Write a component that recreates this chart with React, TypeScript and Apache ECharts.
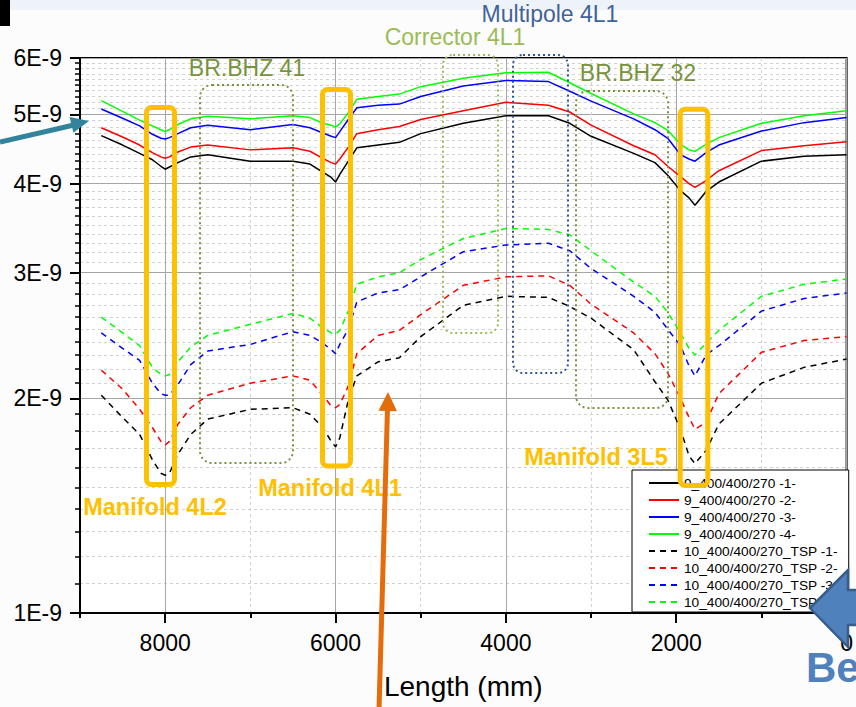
import React, { useEffect, useRef } from 'react';
import * as echarts from 'echarts';

// Position along the line, mm (x axis is reversed: 9000 on the left, 0 on the right)
const X_MM = [8750, 8500, 8300, 8150, 8050, 8000, 7950, 7850, 7700, 7500, 7000, 6500, 6300, 6150, 6050, 6000, 5950, 5850, 5750, 5500, 5250, 5000, 4500, 4000, 3500, 3250, 3000, 2500, 2250, 2100, 1950, 1850, 1780, 1650, 1500, 1000, 500, 0];

// Pressure values, in units of 1E-9
const S1 = [4.67, 4.53, 4.41, 4.32, 4.23, 4.19, 4.22, 4.28, 4.36, 4.39, 4.30, 4.30, 4.26, 4.15, 4.08, 4.02, 4.12, 4.30, 4.49, 4.53, 4.57, 4.70, 4.86, 4.98, 4.98, 4.86, 4.66, 4.41, 4.28, 4.11, 3.91, 3.82, 3.73, 3.90, 4.02, 4.30, 4.37, 4.39];
const S2 = [4.79, 4.65, 4.53, 4.42, 4.36, 4.34, 4.36, 4.43, 4.50, 4.53, 4.46, 4.49, 4.44, 4.34, 4.28, 4.26, 4.33, 4.50, 4.70, 4.76, 4.81, 4.92, 5.06, 5.20, 5.15, 5.04, 4.83, 4.52, 4.39, 4.23, 4.09, 4.00, 3.95, 4.04, 4.17, 4.45, 4.52, 4.58];
const S3 = [5.09, 4.94, 4.82, 4.69, 4.63, 4.62, 4.64, 4.70, 4.79, 4.83, 4.76, 4.84, 4.79, 4.71, 4.66, 4.64, 4.73, 4.92, 5.11, 5.15, 5.17, 5.30, 5.48, 5.58, 5.56, 5.39, 5.22, 4.93, 4.76, 4.63, 4.39, 4.33, 4.30, 4.42, 4.53, 4.74, 4.87, 4.95];
const S4 = [5.23, 5.05, 4.91, 4.82, 4.76, 4.73, 4.76, 4.84, 4.93, 4.97, 4.93, 4.98, 4.95, 4.86, 4.83, 4.80, 4.85, 5.03, 5.25, 5.30, 5.34, 5.47, 5.62, 5.72, 5.73, 5.54, 5.35, 5.01, 4.87, 4.75, 4.54, 4.46, 4.44, 4.54, 4.64, 4.86, 4.98, 5.06];
const D1 = [2.02, 1.88, 1.78, 1.64, 1.57, 1.56, 1.57, 1.67, 1.78, 1.87, 1.93, 1.94, 1.90, 1.82, 1.74, 1.71, 1.76, 1.99, 2.15, 2.25, 2.28, 2.44, 2.70, 2.78, 2.77, 2.69, 2.59, 2.34, 2.11, 1.99, 1.81, 1.66, 1.62, 1.69, 1.84, 2.10, 2.21, 2.27];
const D2 = [2.19, 2.06, 1.93, 1.82, 1.74, 1.72, 1.74, 1.84, 1.94, 2.02, 2.10, 2.15, 2.12, 2.02, 1.95, 1.94, 1.96, 2.08, 2.31, 2.45, 2.49, 2.62, 2.88, 2.96, 2.97, 2.88, 2.71, 2.47, 2.31, 2.17, 2.00, 1.88, 1.81, 1.85, 2.03, 2.32, 2.41, 2.44];
const D3 = [2.47, 2.35, 2.26, 2.10, 2.03, 2.02, 2.02, 2.09, 2.23, 2.33, 2.38, 2.48, 2.45, 2.39, 2.34, 2.31, 2.38, 2.50, 2.73, 2.81, 2.84, 2.96, 3.21, 3.28, 3.30, 3.22, 3.04, 2.78, 2.64, 2.50, 2.37, 2.22, 2.15, 2.30, 2.37, 2.65, 2.76, 2.81];
const D4 = [2.60, 2.47, 2.37, 2.21, 2.16, 2.15, 2.16, 2.25, 2.36, 2.45, 2.54, 2.63, 2.59, 2.51, 2.47, 2.46, 2.49, 2.65, 2.89, 2.96, 3.00, 3.13, 3.35, 3.46, 3.45, 3.39, 3.22, 2.91, 2.78, 2.64, 2.47, 2.35, 2.30, 2.39, 2.49, 2.78, 2.89, 2.94];

const SERIES_VALUES = [S1, S2, S3, S4, D1, D2, D3, D4];
const SERIES_NAMES = [
  '9_400/400/270 -1-',
  '9_400/400/270 -2-',
  '9_400/400/270 -3-',
  '9_400/400/270 -4-',
  '10_400/400/270_TSP -1-',
  '10_400/400/270_TSP -2-',
  '10_400/400/270_TSP -3-',
  '10_400/400/270_TSP -4-',
];
const SERIES_COLORS = ['#000000', '#FF0000', '#0000FF', '#00FF00', '#000000', '#FF0000', '#0000FF', '#00FF00'];

// Axis ticks
const Y_MAJOR = [1, 2, 3, 4, 5, 6]; // ×1E-9, log scale
const Y_MINOR: number[] = [];
for (let m = 1; m < 6; m++) for (let k = 1; k < 10; k++) Y_MINOR.push(m + k / 10);
const X_MAJOR = [0, 2000, 4000, 6000, 8000];
const X_MINOR = [1000, 3000, 5000, 7000, 9000];
const X_MIN = 0;
const X_MAX = 9000;

const FONT = 'Liberation Sans';

export default function App() {
  const ref = useRef<HTMLDivElement>(null);

  useEffect(() => {
    if (!ref.current) return;
    const chart = echarts.init(ref.current, undefined, { renderer: 'svg' });
    const lg = (v: number) => Math.log10(v);
    const yMax = lg(6);

    const orange = '#FFC000';
    const olive = '#77933C';
    const lightGreen = '#9BBB59';
    const dashBlue = '#2F5597';

    const option: any = {
      animation: false,
      backgroundColor: '#fcfcfc',
      textStyle: { fontFamily: FONT },
      grid: {
        left: 80, right: 3, top: 58, bottom: 94,
        show: true, backgroundColor: '#ffffff', borderColor: '#000', borderWidth: 2,
      },
      legend: {
        orient: 'vertical', left: 632, top: 470,
        itemWidth: 30, itemHeight: 12, itemGap: 1,
        padding: [5, 11, 2, 16],
        backgroundColor: '#ffffff', borderColor: '#000', borderWidth: 1,
        itemStyle: { opacity: 0 },
        textStyle: { fontSize: 13.7, color: '#000', lineHeight: 16, fontFamily: FONT },
        data: SERIES_NAMES,
      },
      xAxis: [
        {
          type: 'value', inverse: true, min: X_MIN, max: X_MAX, position: 'bottom',
          name: 'Length (mm)', nameLocation: 'middle', nameGap: 59,
          nameTextStyle: { fontSize: 28, color: '#000', fontFamily: FONT },
          axisLine: { show: true, onZero: false, lineStyle: { color: '#000', width: 2 } },
          axisTick: { show: true, customValues: X_MAJOR, length: 10, lineStyle: { color: '#000', width: 2 } },
          axisLabel: {
            customValues: X_MAJOR, fontSize: 23, color: '#000', margin: 18, fontFamily: FONT,
            formatter: (v: number) => String(Math.round(v)),
          },
          splitLine: { show: true, lineStyle: { color: '#A6A6A6', width: 1 } },
        },
        {
          type: 'value', inverse: true, min: X_MIN, max: X_MAX, position: 'bottom',
          axisLine: { show: false, onZero: false },
          axisTick: { show: true, customValues: X_MINOR, length: 5, lineStyle: { color: '#000', width: 2 } },
          axisLabel: { show: false },
          splitLine: { show: true, lineStyle: { color: '#D2D2D2', width: 1, type: [3, 3] } },
        },
      ],
      yAxis: [
        {
          type: 'value', min: 0, max: yMax, position: 'left',
          axisLine: { show: true, onZero: false, lineStyle: { color: '#000', width: 2 } },
          axisTick: { show: true, customValues: Y_MAJOR.map(lg), length: 10, lineStyle: { color: '#000', width: 2 } },
          axisLabel: {
            customValues: Y_MAJOR.map(lg), fontSize: 23, color: '#000', margin: 18, fontFamily: FONT,
            formatter: (v: number) => `${Math.round(Math.pow(10, v))}E-9`,
          },
          splitLine: { show: true, lineStyle: { color: '#A6A6A6', width: 1 } },
        },
        {
          type: 'value', min: 0, max: yMax, position: 'left',
          axisLine: { show: false, onZero: false },
          axisTick: { show: true, customValues: Y_MINOR.map(lg), length: 5, lineStyle: { color: '#000', width: 1.5 } },
          axisLabel: { show: false },
          splitLine: { show: true, lineStyle: { color: '#D2D2D2', width: 1, type: [3, 3] } },
        },
      ],
      series: SERIES_VALUES.map((vals, i) => ({
        type: 'line',
        name: SERIES_NAMES[i],
        xAxisIndex: 0,
        yAxisIndex: 0,
        symbol: 'none',
        showSymbol: false,
        data: X_MM.map((x, j) => [x, lg(vals[j])]),
        lineStyle: { color: SERIES_COLORS[i], width: 1.5, type: i >= 4 ? [6, 5] : 'solid' },
        itemStyle: { color: SERIES_COLORS[i] },
        z: 2,
      })),
      graphic: [
        // top strip and mark
        { type: 'rect', z: 100, silent: true, shape: { x: 0, y: 0, width: 856, height: 10 }, style: { fill: '#eef3f9' } },
        { type: 'rect', z: 101, silent: true, shape: { x: 0, y: 0, width: 10, height: 26 }, style: { fill: '#000' } },
        // dotted component boxes
        { type: 'rect', z: 100, silent: true, shape: { x: 200, y: 85, width: 93, height: 378, r: 12 }, style: { fill: 'transparent', stroke: olive, lineWidth: 2, lineDash: [2, 3] } },
        { type: 'rect', z: 100, silent: true, shape: { x: 443, y: 55, width: 55, height: 278, r: 10 }, style: { fill: 'transparent', stroke: lightGreen, lineWidth: 2, lineDash: [2, 3] } },
        { type: 'rect', z: 100, silent: true, shape: { x: 513, y: 55, width: 55, height: 318, r: 10 }, style: { fill: 'transparent', stroke: dashBlue, lineWidth: 2, lineDash: [2, 3] } },
        { type: 'rect', z: 100, silent: true, shape: { x: 576, y: 91, width: 92, height: 317, r: 12 }, style: { fill: 'transparent', stroke: olive, lineWidth: 2, lineDash: [2, 3] } },
        // component labels
        { type: 'text', z: 102, silent: true, x: 247, y: 68, style: { text: 'BR.BHZ 41', fill: olive, fontSize: 23, fontFamily: FONT, align: 'center', verticalAlign: 'middle' } },
        { type: 'text', z: 102, silent: true, x: 455, y: 37, style: { text: 'Corrector 4L1', fill: lightGreen, fontSize: 23, fontFamily: FONT, align: 'center', verticalAlign: 'middle' } },
        { type: 'text', z: 102, silent: true, x: 550, y: 14, style: { text: 'Multipole 4L1', fill: '#3F6499', fontSize: 23, fontFamily: FONT, align: 'center', verticalAlign: 'middle' } },
        { type: 'text', z: 102, silent: true, x: 638, y: 73, style: { text: 'BR.BHZ 32', fill: olive, fontSize: 23, fontFamily: FONT, align: 'center', verticalAlign: 'middle' } },
        // manifold boxes
        { type: 'rect', z: 103, silent: true, shape: { x: 146.5, y: 107.5, width: 28, height: 377, r: 5 }, style: { fill: 'transparent', stroke: orange, lineWidth: 5 } },
        { type: 'rect', z: 103, silent: true, shape: { x: 322.5, y: 89.5, width: 28, height: 376.5, r: 5 }, style: { fill: 'transparent', stroke: orange, lineWidth: 5 } },
        { type: 'rect', z: 103, silent: true, shape: { x: 680.2, y: 109.2, width: 27.6, height: 376.3, r: 5 }, style: { fill: 'transparent', stroke: orange, lineWidth: 5 } },
        { type: 'text', z: 103, silent: true, x: 155, y: 507, style: { text: 'Manifold 4L2', fill: orange, fontSize: 23.5, fontWeight: 'bold', fontFamily: FONT, align: 'center', verticalAlign: 'middle' } },
        { type: 'text', z: 103, silent: true, x: 330, y: 488, style: { text: 'Manifold 4L1', fill: orange, fontSize: 23.5, fontWeight: 'bold', fontFamily: FONT, align: 'center', verticalAlign: 'middle' } },
        { type: 'text', z: 103, silent: true, x: 596, y: 457, style: { text: 'Manifold 3L5', fill: orange, fontSize: 23.5, fontWeight: 'bold', fontFamily: FONT, align: 'center', verticalAlign: 'middle' } },
        // teal arrow (left)
        { type: 'line', z: 104, silent: true, shape: { x1: 0, y1: 142, x2: 74, y2: 125 }, style: { stroke: '#31849B', lineWidth: 5 } },
        { type: 'polygon', z: 104, silent: true, shape: { points: [[89, 121], [69.6, 117.1], [73.4, 132.7]] }, style: { fill: '#31849B' } },
        // orange arrow (bottom)
        { type: 'line', z: 104, silent: true, shape: { x1: 379, y1: 710, x2: 387.5, y2: 408 }, style: { stroke: '#E46C0A', lineWidth: 5 } },
        { type: 'polygon', z: 104, silent: true, shape: { points: [[388, 392], [397, 411.3], [378.5, 410.7]] }, style: { fill: '#E46C0A' } },
        // blue block arrow (bottom right)
        { type: 'polygon', z: 105, silent: true, shape: { points: [[810, 608], [848, 570], [848, 590], [860, 590], [860, 625], [848, 625], [848, 647]] }, style: { fill: '#4F81BD', stroke: '#385D8A', lineWidth: 2.5 } },
        { type: 'text', z: 105, silent: true, x: 806, y: 667, style: { text: 'Be', fill: '#4F81BD', fontSize: 42, fontWeight: 'bold', fontFamily: FONT, align: 'left', verticalAlign: 'middle' } },
      ],
    };

    chart.setOption(option);
    return () => chart.dispose();
  }, []);

  return (
    <div
      ref={ref}
      style={{ position: 'fixed', left: 0, top: 0, width: 856, height: 707 }}
    />
  );
}
